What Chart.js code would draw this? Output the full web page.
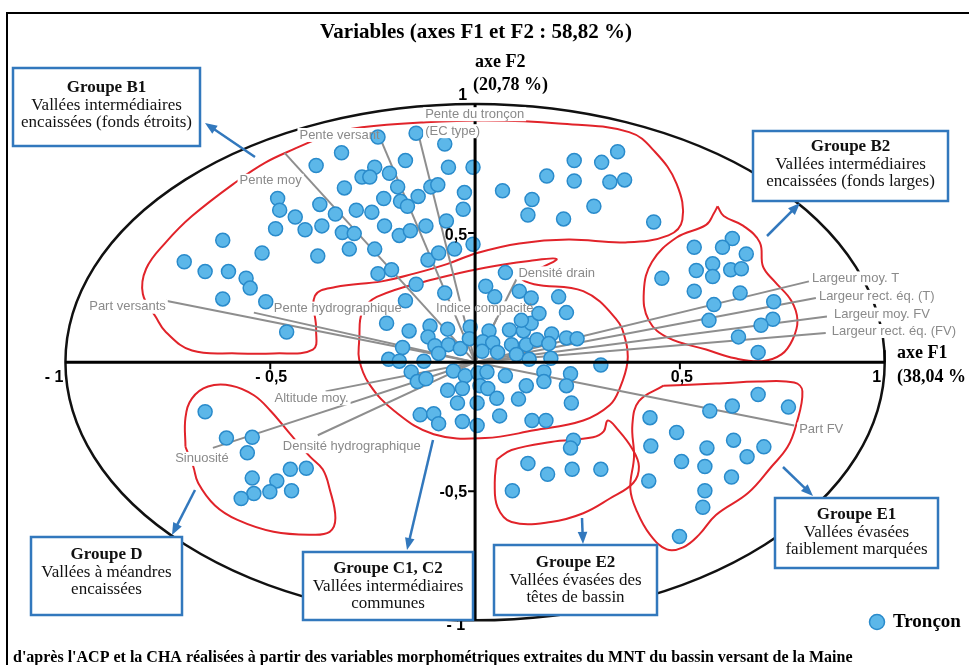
<!DOCTYPE html>
<html>
<head>
<meta charset="utf-8">
<script src="https://cdn.jsdelivr.net/npm/chart.js@4.4.1/dist/chart.umd.min.js"></script>
<style>html,body{margin:0;padding:0;background:#fff;overflow:hidden}</style>
</head>
<body>
<canvas id="acp" width="969" height="665"></canvas>
<script>
// ACP - tronçons et variables morphométriques dans le plan F1 / F2

// coordonnées des tronçons (F1, F2), par groupe
const tronconF1 = [
    // B1
    -0.237, -0.144, -0.326, -0.074, -0.388, -0.170, -0.245, -0.276, -0.257, -0.209,
    -0.065, -0.005, -0.319, -0.189, -0.108, -0.091, -0.026, -0.482, -0.477, -0.379,
    -0.341, -0.290, -0.252, -0.223, -0.182, -0.165, -0.139, -0.029, -0.439, -0.415,
    -0.374, -0.487, -0.324, -0.295, -0.221, -0.185, -0.158, -0.120, -0.070, -0.616,
    -0.520, -0.384, -0.307, -0.245, -0.115, -0.089, -0.050, -0.005, -0.710, -0.659,
    -0.602, -0.559, -0.549, -0.616, -0.511, -0.237, -0.204, -0.144, -0.074, -0.170,
    -0.460,
    0.175, 0.067, 0.139, 0.129, 0.216, 0.348, 0.242, 0.309, 0.242, 0.329, 0.365, 0.290, 0.436,
    // B2
    0.535, 0.628, 0.604, 0.662, 0.580, 0.540, 0.580, 0.624, 0.650, 0.456,
    0.535, 0.647, 0.583, 0.729, 0.571, 0.727, 0.698, 0.643, 0.691,
    // E1
    0.691, 0.628, 0.765, 0.573, 0.427, 0.492, 0.631, 0.429, 0.566, 0.705,
    0.664, 0.504, 0.561, 0.626, 0.424, 0.561, 0.556, 0.499,
    // E2
    0.240, 0.233, 0.129, 0.177, 0.237, 0.307, 0.091,
    // D
    -0.659, -0.607, -0.544, -0.556, -0.451, -0.412, -0.544, -0.484, -0.501, -0.540, -0.448, -0.571,
    // C1, C2
    0.074, 0.026, 0.048, 0.108, 0.137, 0.204, -0.216, -0.161, -0.110, -0.067,
    -0.012, 0.034, 0.084, 0.118, 0.137, 0.113, 0.156, 0.223, 0.187, 0.223,
    -0.115, -0.098, -0.065, -0.036, -0.014, 0.019, 0.043, 0.089, 0.125, 0.151,
    0.180, -0.177, -0.089, 0.017, 0.055, 0.101, 0.132, 0.185, -0.211, -0.185,
    -0.125, -0.053, -0.024, 0.007, 0.029, 0.074, -0.156, -0.141, -0.120, -0.031,
    0.012, 0.031, 0.125, 0.168, 0.168, 0.233, -0.043, 0.005, 0.053, 0.106,
    0.223, 0.235, 0.060, -0.134, -0.101, -0.089, -0.031, 0.005, 0.139, 0.173,
    0.307, 0.249, -0.067
];
const tronconF2 = [
    0.872, 0.887, 0.811, 0.845, 0.762, 0.781, 0.755, 0.717, 0.717, 0.732,
    0.755, 0.755, 0.675, 0.679, 0.679, 0.687, 0.657, 0.634, 0.589, 0.611,
    0.574, 0.589, 0.581, 0.634, 0.623, 0.604, 0.642, 0.592, 0.562, 0.513,
    0.528, 0.517, 0.502, 0.498, 0.528, 0.491, 0.509, 0.528, 0.547, 0.472,
    0.423, 0.411, 0.438, 0.438, 0.396, 0.423, 0.438, 0.457, 0.389, 0.351,
    0.351, 0.325, 0.287, 0.245, 0.234, 0.343, 0.358, 0.302, 0.268, 0.238,
    0.117,
    0.721, 0.664, 0.630, 0.570, 0.555, 0.815, 0.781, 0.774, 0.702, 0.698, 0.706, 0.604, 0.543,
    0.445, 0.479, 0.445, 0.419, 0.381, 0.355, 0.332, 0.358, 0.362, 0.325,
    0.275, 0.268, 0.223, 0.234, 0.162, 0.166, 0.143, 0.098, 0.038,
    -0.125, -0.170, -0.174, -0.189, -0.215, -0.272, -0.302, -0.325, -0.332, -0.328,
    -0.366, -0.385, -0.404, -0.445, -0.460, -0.498, -0.562, -0.675,
    -0.302, -0.332, -0.392, -0.434, -0.415, -0.415, -0.498,
    -0.192, -0.294, -0.291, -0.351, -0.415, -0.411, -0.449, -0.460, -0.502, -0.509, -0.498, -0.528,
    0.347, 0.294, 0.253, 0.275, 0.249, 0.253, 0.151, 0.121, 0.140, 0.128,
    0.136, 0.121, 0.125, 0.121, 0.151, 0.162, 0.189, 0.192, 0.109, 0.094,
    0.098, 0.064, 0.068, 0.053, 0.091, 0.079, 0.075, 0.068, 0.068, 0.087,
    0.072, 0.057, 0.034, 0.042, 0.038, 0.030, 0.011, 0.015, 0.011, 0.004,
    0.004, -0.034, -0.053, -0.042, -0.038, -0.053, -0.038, -0.075, -0.064, -0.102,
    -0.091, -0.102, -0.091, -0.038, -0.075, -0.045, -0.158, -0.158, -0.140, -0.143,
    -0.091, -0.158, -0.208, -0.204, -0.200, -0.238, -0.230, -0.245, -0.226, -0.226,
    -0.011, 0.091, -0.109
];

// variables (cercle des corrélations)
const variableNames = [
    'Pente du tronçon\n(EC type)', 'Pente versant', 'Pente moy', 'Part versants',
    'Pente hydrographique', 'Indice compacité', 'Densité drain', 'Largeur moy. T',
    'Largeur rect. éq. (T)', 'Largeur moy. FV', 'Largeur rect. éq. (FV)', 'Part FV',
    'Altitude moy.', 'Densité hydrographique', 'Sinuosité'
];
const variableF1 = [-0.139, -0.228, -0.465, -0.755, -0.540, 0.053, 0.101, 0.815, 0.832, 0.859, 0.856, 0.779, -0.365, -0.384, -0.640];
const variableF2 = [0.887, 0.853, 0.811, 0.238, 0.192, 0.170, 0.321, 0.313, 0.249, 0.177, 0.113, -0.245, -0.113, -0.283, -0.332];

// contours des groupes de la CHA
const hullB1 = [[-0.436, 0.830], [-0.348, 0.887], [-0.276, 0.910], [-0.132, 0.928], [0.024, 0.936], [0.204, 0.925],
    [0.376, 0.891], [0.439, 0.815], [0.492, 0.691], [0.506, 0.551], [0.472, 0.491], [0.367, 0.464], [0.228, 0.475],
    [0.108, 0.460], [0.005, 0.423], [-0.067, 0.381], [-0.149, 0.343], [-0.228, 0.313], [-0.341, 0.291], [-0.391, 0.257],
    [-0.388, 0.125], [-0.396, 0.049], [-0.492, 0.034], [-0.580, 0.034], [-0.691, 0.045], [-0.755, 0.117], [-0.779, 0.174],
    [-0.811, 0.264], [-0.803, 0.362], [-0.755, 0.464], [-0.691, 0.566], [-0.580, 0.702], [-0.511, 0.774]];
const hullC = [[-0.283, 0.087], [-0.276, 0.192], [-0.240, 0.253], [-0.101, 0.321], [0.024, 0.366], [0.132, 0.392],
    [0.199, 0.400], [0.156, 0.362], [0.113, 0.328], [0.144, 0.302], [0.264, 0.275], [0.343, 0.170], [0.367, 0.087],
    [0.372, 0.000], [0.353, -0.102], [0.329, -0.166], [0.264, -0.226], [0.144, -0.264], [0.024, -0.294],
    [-0.101, -0.279], [-0.197, -0.189], [-0.259, -0.083], [-0.283, 0.011]];
const hullB2 = [[0.592, 0.604], [0.607, 0.566], [0.655, 0.528], [0.695, 0.464], [0.703, 0.370], [0.731, 0.313],
    [0.772, 0.238], [0.787, 0.162], [0.775, 0.087], [0.748, 0.030], [0.700, 0.004], [0.635, 0.015], [0.564, 0.049],
    [0.472, 0.094], [0.424, 0.162], [0.412, 0.275], [0.432, 0.389], [0.492, 0.483], [0.564, 0.532], [0.583, 0.577]];
const hullE1 = [[0.460, -0.091], [0.588, -0.083], [0.691, -0.075], [0.779, -0.079], [0.799, -0.113], [0.784, -0.242],
    [0.763, -0.328], [0.724, -0.404], [0.667, -0.506], [0.588, -0.592], [0.547, -0.668], [0.508, -0.717],
    [0.468, -0.725], [0.427, -0.668], [0.396, -0.581], [0.379, -0.491], [0.388, -0.366], [0.384, -0.242], [0.400, -0.151]];
const hullE2 = [[0.053, -0.377], [0.089, -0.340], [0.185, -0.309], [0.288, -0.291], [0.314, -0.268], [0.324, -0.226],
    [0.348, -0.260], [0.384, -0.336], [0.400, -0.404], [0.386, -0.468], [0.329, -0.528], [0.264, -0.585],
    [0.185, -0.619], [0.089, -0.619], [0.055, -0.562], [0.048, -0.468]];
const hullD = [[-0.707, -0.328], [-0.707, -0.215], [-0.691, -0.140], [-0.652, -0.094], [-0.595, -0.091], [-0.540, -0.128],
    [-0.499, -0.189], [-0.451, -0.279], [-0.403, -0.366], [-0.372, -0.415], [-0.355, -0.491], [-0.341, -0.604],
    [-0.355, -0.657], [-0.403, -0.668], [-0.492, -0.657], [-0.580, -0.611], [-0.635, -0.555], [-0.676, -0.468], [-0.688, -0.404]];

const axisTicks = [-1, -0.5, 0.5, 1];
const tickLabelsF1 = ['- 1', '- 0,5', '0,5', '1'];
const tickLabelsF2 = ['- 1', '-0,5', '0,5', '1'];

// mise en page (pixels)
const SERIF = '"Liberation Serif", "Times New Roman", serif';
const SANS = '"Liberation Sans", Arial, sans-serif';
const BLUE = '#3278bd';

const labelLayout = [
    { dx: 7, dy: -19, align: 'left', over: true },
    { dx: -2, dy: -7, align: 'right' },
    { dx: -14, dy: 28, align: 'center' },
    { dx: 0, dy: 6, align: 'right' },
    { dx: 20, dy: -4, align: 'left' },
    { dx: -12, dy: -10, align: 'center' },
    { dx: 2, dy: -6, align: 'left' },
    { dx: 3, dy: -3, align: 'left' },
    { dx: 3, dy: -1, align: 'left' },
    { dx: 7, dy: -2, align: 'left' },
    { dx: 6, dy: -2, align: 'left' },
    { dx: 5, dy: 4, align: 'left' },
    { dx: -14, dy: 7, align: 'center' },
    { dx: -35, dy: 11, align: 'left' },
    { dx: -11, dy: 11, align: 'center' }
];
const tickLayoutF1 = [{ dx: -2, align: 'right' }, { dx: 1, align: 'center' }, { dx: 2, align: 'center' }, { dx: -8, align: 'center' }];
const tickLayoutF2 = [{ dy: 5, dx: -10 }, { dy: 1, dx: -8 }, { dy: 2, dx: -8 }, { dy: -8, dx: -8 }];

const groupBoxes = [
    { x: 13, y: 68, w: 187, h: 78, lines: ['Groupe B1', 'Vallées intermédiaires', 'encaissées (fonds étroits)'], ty: 88, arrow: [255, 157, 205, 123] },
    { x: 753, y: 131, w: 195, h: 70, lines: ['Groupe B2', 'Vallées intermédiaires', 'encaissées (fonds larges)'], ty: 147, arrow: [767, 236, 800, 203] },
    { x: 31, y: 537, w: 151, h: 78, lines: ['Groupe D', 'Vallées à méandres', 'encaissées'], ty: 555, arrow: [195, 490, 172, 535] },
    { x: 303, y: 552, w: 170, h: 68, lines: ['Groupe C1, C2', 'Vallées intermédiaires', 'communes'], ty: 569, arrow: [433, 440, 407, 550] },
    { x: 494, y: 545, w: 163, h: 70, lines: ['Groupe E2', 'Vallées évasées des', 'têtes de bassin'], ty: 563, arrow: [582, 518, 583, 544] },
    { x: 775, y: 498, w: 163, h: 70, lines: ['Groupe E1', 'Vallées évasées', 'faiblement marquées'], ty: 515, arrow: [783, 467, 813, 496] }
];

function toPx(chart, x, y) {
    return [chart.scales.x.getPixelForValue(x), chart.scales.y.getPixelForValue(y)];
}

function variableLabelParts(ctx, chart, i) {
    const lay = labelLayout[i];
    const [ex, ey] = toPx(chart, variableF1[i], variableF2[i]);
    ctx.font = '13px ' + SANS;
    return variableNames[i].split('\n').map((t, k) => {
        const w = ctx.measureText(t).width;
        const x = ex + lay.dx;
        const left = lay.align === 'left' ? x : (lay.align === 'right' ? x - w : x - w / 2);
        return { t, left, y: ey + lay.dy + k * 17, w };
    });
}

function drawLabelBg(ctx, chart, i) {
    ctx.fillStyle = '#fff';
    variableLabelParts(ctx, chart, i).forEach(p => ctx.fillRect(p.left - 2, p.y - 7, p.w + 4, 14));
}

function drawArrow(ctx, x1, y1, x2, y2) {
    const a = Math.atan2(y2 - y1, x2 - x1);
    ctx.beginPath();
    ctx.moveTo(x1, y1);
    ctx.lineTo(x2 - 8 * Math.cos(a), y2 - 8 * Math.sin(a));
    ctx.stroke();
    ctx.beginPath();
    ctx.moveTo(x2, y2);
    ctx.lineTo(x2 - 13 * Math.cos(a - 0.38), y2 - 13 * Math.sin(a - 0.38));
    ctx.lineTo(x2 - 13 * Math.cos(a + 0.38), y2 - 13 * Math.sin(a + 0.38));
    ctx.closePath();
    ctx.fill();
}

const biplotPlugin = {
    id: 'biplot',
    beforeDatasetsDraw(chart) {
        const ctx = chart.ctx;
        const [cx, cy] = toPx(chart, 0, 0);
        const rx = toPx(chart, 1, 0)[0] - cx;
        const ry = cy - toPx(chart, 0, 1)[1];
        ctx.save();
        ctx.strokeStyle = '#111';
        ctx.lineWidth = 2.5;
        ctx.beginPath();
        ctx.ellipse(cx, cy, rx, ry, 0, 0, Math.PI * 2);
        ctx.stroke();
        ctx.restore();
    },
    beforeDatasetDraw(chart, args) {
        // fond blanc des étiquettes, sous les tronçons
        if (args.index !== 0) return;
        const ctx = chart.ctx;
        ctx.save();
        variableNames.forEach((n, i) => { if (!labelLayout[i].over) drawLabelBg(ctx, chart, i); });
        ctx.restore();
    },
    afterDatasetsDraw(chart) {
        const ctx = chart.ctx;
        const [ox, oy] = toPx(chart, 0, 0);
        ctx.save();

        // axes F1 et F2
        ctx.strokeStyle = '#000';
        ctx.lineWidth = 3;
        ctx.beginPath();
        ctx.moveTo(toPx(chart, -1, 0)[0], oy);
        ctx.lineTo(toPx(chart, 1, 0)[0], oy);
        ctx.moveTo(ox, toPx(chart, 0, 1)[1]);
        ctx.lineTo(ox, toPx(chart, 0, -1)[1]);
        ctx.stroke();

        ctx.lineWidth = 2;
        ctx.font = 'bold 16px ' + SANS;
        ctx.fillStyle = '#000';
        ctx.textBaseline = 'middle';
        axisTicks.forEach((v, i) => {
            const tx = toPx(chart, v, 0)[0];
            const ty = toPx(chart, 0, v)[1];
            ctx.beginPath();
            if (Math.abs(v) === 0.5) {
                ctx.moveTo(tx, oy); ctx.lineTo(tx, oy + 7);
                ctx.moveTo(ox, ty); ctx.lineTo(ox - 7, ty);
            } else if (v === 1) {
                ctx.moveTo(tx, oy); ctx.lineTo(tx, oy - 12);
            }
            ctx.stroke();
            ctx.textAlign = tickLayoutF1[i].align;
            ctx.fillText(tickLabelsF1[i], tx + tickLayoutF1[i].dx, oy + 15);
            ctx.textAlign = 'right';
            ctx.fillText(tickLabelsF2[i], ox + tickLayoutF2[i].dx, ty + tickLayoutF2[i].dy);
        });

        // étiquettes des variables
        variableNames.forEach((n, i) => { if (labelLayout[i].over) drawLabelBg(ctx, chart, i); });
        ctx.fillStyle = '#8a8a8a';
        ctx.textAlign = 'left';
        variableNames.forEach((n, i) => {
            variableLabelParts(ctx, chart, i).forEach(p => ctx.fillText(p.t, p.left, p.y));
        });

        // titres des axes
        ctx.fillStyle = '#000';
        ctx.font = 'bold 18px ' + SERIF;
        ctx.fillText('axe F2', 475, 62);
        ctx.fillText('(20,78 %)', 473, 85);
        ctx.fillText('axe F1', 897, 353);
        ctx.fillText('(38,04 %', 897, 377);

        ctx.font = 'bold 21px ' + SERIF;
        ctx.textAlign = 'center';
        ctx.fillText('Variables (axes F1 et F2 : 58,82 %)', 476, 33);

        // cadres des groupes
        groupBoxes.forEach(b => {
            ctx.strokeStyle = BLUE;
            ctx.fillStyle = BLUE;
            ctx.lineWidth = 2.5;
            drawArrow(ctx, ...b.arrow);
            ctx.fillStyle = '#fff';
            ctx.fillRect(b.x, b.y, b.w, b.h);
            ctx.strokeRect(b.x, b.y, b.w, b.h);
            ctx.fillStyle = '#111';
            b.lines.forEach((t, k) => {
                ctx.font = (k === 0 ? 'bold ' : '') + '17px ' + SERIF;
                ctx.fillText(t, b.x + b.w / 2, b.ty + k * 17.5);
            });
        });

        // légende
        ctx.beginPath();
        ctx.arc(877, 622, 7.5, 0, Math.PI * 2);
        ctx.fillStyle = '#5cb7e9';
        ctx.fill();
        ctx.strokeStyle = '#2a8bcb';
        ctx.lineWidth = 1.5;
        ctx.stroke();
        ctx.fillStyle = '#000';
        ctx.textAlign = 'left';
        ctx.font = 'bold 19px ' + SERIF;
        ctx.fillText('Tronçon', 893, 622);

        ctx.font = 'bold 16px ' + SERIF;
        ctx.fillText("d'après l'ACP et la CHA réalisées à partir des variables morphométriques extraites du MNT du bassin versant de la Maine", 13, 658);

        // cadre
        ctx.strokeStyle = '#000';
        ctx.lineWidth = 2;
        ctx.beginPath();
        ctx.moveTo(7, 665);
        ctx.lineTo(7, 13);
        ctx.lineTo(969, 13);
        ctx.stroke();
        ctx.restore();
    }
};

const dotsDataset = {
    label: 'Tronçon',
    data: tronconF1.map((x, i) => ({ x: x, y: tronconF2[i] })),
    pointRadius: 7,
    pointBackgroundColor: '#5cb7e9',
    pointBorderColor: '#2a8bcb',
    pointBorderWidth: 1.5,
    showLine: false,
    order: 1
};

const vectorDatasets = variableNames.map((n, i) => ({
    label: n,
    data: [{ x: 0, y: 0 }, { x: variableF1[i], y: variableF2[i] }],
    showLine: true,
    pointRadius: 0,
    borderColor: '#8e8e8e',
    borderWidth: 2,
    order: 2
}));

const hullDatasets = [hullB1, hullC, hullB2, hullE1, hullE2, hullD].map(h => ({
    label: 'groupe',
    data: h.concat([h[0]]).map(p => ({ x: p[0], y: p[1] })),
    showLine: true,
    tension: 0.4,
    pointRadius: 0,
    borderColor: '#e1232a',
    borderWidth: 2,
    order: 3
}));

new Chart(document.getElementById('acp'), {
    type: 'scatter',
    data: { datasets: [dotsDataset, ...vectorDatasets, ...hullDatasets] },
    options: {
        responsive: false,
        animation: false,
        events: [],
        layout: { padding: 0 },
        scales: {
            x: { type: 'linear', min: -1.139, max: 1.185, display: false },
            y: { type: 'linear', min: -1.140, max: 1.370, display: false }
        },
        plugins: { legend: { display: false }, tooltip: { enabled: false } }
    },
    plugins: [biplotPlugin]
});
</script>
</body>
</html>
